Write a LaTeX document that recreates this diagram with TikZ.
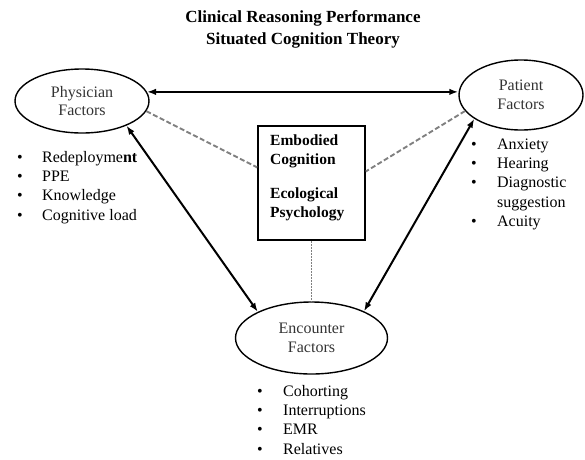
\documentclass[tikz,border=0pt]{standalone}
\usepackage{fontspec}
\setmainfont{Liberation Serif}
\usetikzlibrary{arrows.meta,shapes.geometric}

\begin{document}
\begin{tikzpicture}[x=1pt,y=-1pt,
	factor/.style={ellipse, draw, line width=1.4pt, align=center, inner sep=0pt,
		text=black!80, font=\fontsize{16}{18.5}\selectfont},
	link/.style={{Latex[length=9pt,width=6.5pt]}-{Latex[length=9pt,width=6.5pt]}, line width=2pt},
	tie/.style={gray, dash pattern=on 5pt off 2.5pt, line width=1.9pt},
	items/.style={anchor=base west, inner sep=0pt, font=\fontsize{16}{19.4}\selectfont}]
	\useasboundingbox (0,0) rectangle (585,459);
	
	\node[anchor=base, inner sep=0pt, font=\fontsize{17}{22}\selectfont\bfseries] (title) at (303,22)
		{\begin{tabular}[t]{@{}c@{}}Clinical Reasoning Performance\\Situated Cognition Theory\end{tabular}};
	
	% the three groups of factors
	\node[factor, minimum width=134pt, minimum height=64pt] (phys) at (82,101) {Physician\\Factors};
	\node[factor, minimum width=124pt, minimum height=70pt] (pat) at (521,95) {Patient\\Factors};
	\node[factor, minimum width=152pt, minimum height=72pt] (enc) at (311.5,338) {Encounter\\Factors};
	
	% theory box in the middle
	\node[draw, line width=1.5pt, minimum width=107pt, minimum height=114pt] (box) at (311.5,183) {};
	\node[anchor=base west, inner sep=0pt, font=\fontsize{15.5}{19}\selectfont\bfseries] (theory) at (270,145)
		{\begin{tabular}[t]{@{}l@{}}Embodied\\Cognition\\[15pt]Ecological\\Psychology\end{tabular}};
	
	% lists
	\node[items] (physlist) at (17,162)
		{\begin{tabular}[t]{@{}p{25pt}@{}l@{}}
			\textbullet & Redeployme\textbf{nt}\\
			\textbullet & PPE\\
			\textbullet & Knowledge\\
			\textbullet & Cognitive load
		\end{tabular}};
	\node[items] (patlist) at (471,149)
		{\begin{tabular}[t]{@{}p{26pt}@{}l@{}}
			\textbullet & Anxiety\\
			\textbullet & Hearing\\
			\textbullet & Diagnostic\\
			& suggestion\\
			\textbullet & Acuity
		\end{tabular}};
	\node[items] (enclist) at (257,396)
		{\begin{tabular}[t]{@{}p{26pt}@{}l@{}}
			\textbullet & Cohorting\\
			\textbullet & Interruptions\\
			\textbullet & EMR\\
			\textbullet & Relatives
		\end{tabular}};
	
	% connections
	\draw[link] (phys.8) -- (phys.8 -| pat.west);
	\draw[link] (phys.-29) -- (enc.154);
	\draw[link] (pat.207) -- (enc.27);
	
	\draw[tie] (phys.-9) -- (box.164);
	\draw[tie] (pat.196) -- (box.12);
	\draw[tie, dash pattern=on 2pt off 1pt, line width=1.6pt] (box.south) -- (enc.north);
\end{tikzpicture}
\end{document}
